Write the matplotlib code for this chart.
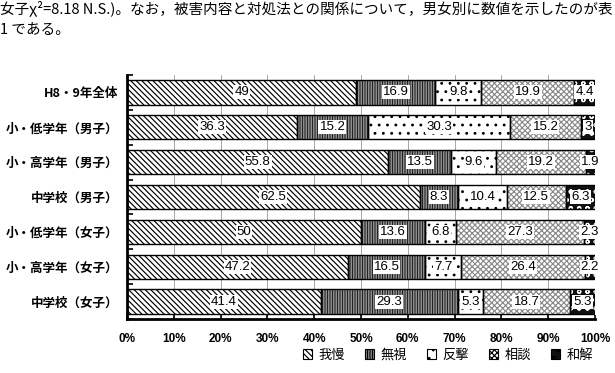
import matplotlib.pyplot as plt
import numpy as np
from matplotlib.patches import Patch

plt.rcParams['font.family'] = ['Noto Sans CJK JP', 'DejaVu Sans']
plt.rcParams['hatch.linewidth'] = 0.85

# 対処法別の割合（%）
groups = ['H8・9年全体', '小・低学年（男子）', '小・高学年（男子）', '中学校（男子）',
          '小・低学年（女子）', '小・高学年（女子）', '中学校（女子）']
categories = ['我慢', '無視', '反撃', '相談', '和解']
gaman = [49, 36.3, 55.8, 62.5, 50, 47.2, 41.4]
mushi = [16.9, 15.2, 13.5, 8.3, 13.6, 16.5, 29.3]
hangeki = [9.8, 30.3, 9.6, 10.4, 6.8, 7.7, 5.3]
soudan = [19.9, 15.2, 19.2, 12.5, 27.3, 26.4, 18.7]
wakai = [4.4, 3, 1.9, 6.3, 2.3, 2.2, 5.3]
tick_labels = ['0%', '10%', '20%', '30%', '40%', '50%', '60%', '70%', '80%', '90%', '100%']

series = [gaman, mushi, hangeki, soudan, wakai]
hatches = ['\\' * 6, '|' * 10, '..', 'x' * 6, 'oo']
faces = ['white', 'white', 'white', 'white', '#111111']
hcols = ['black', '#222222', 'black', '#8a8a8a', 'white']

fig = plt.figure(figsize=(6.15, 3.73), dpi=100)
ax = fig.add_axes([127/615, 1 - 319/373, 468/615, 244/373])

y = np.arange(len(groups))
left = np.zeros(len(groups))
for vals, h, fc, hc in zip(series, hatches, faces, hcols):
    vals = np.array(vals)
    ax.barh(y, vals, left=left, height=0.7, color=fc, hatch=h, edgecolor=hc, lw=0, zorder=2)
    ax.barh(y, vals, left=left, height=0.7, fill=False, edgecolor='black', lw=1.0, zorder=3)
    for yi, l, v in zip(y, left, vals):
        ax.text(l + v / 2, yi, f'{v:g}', ha='center', va='center', fontsize=9.5,
                family='Liberation Sans', zorder=4,
                bbox=dict(boxstyle='square,pad=0.08', fc='white', ec='none'))
    left += vals

ax.set_xlim(0, 100)
ax.set_ylim(6.42, -0.42)
ax.set_xticks(np.arange(0, 101, 10))
ax.set_xticklabels(tick_labels, fontsize=8.5, fontweight='bold', family='Liberation Sans')
ax.set_yticks(y)
ax.set_yticklabels(groups, fontsize=9, fontweight='bold')
ax.tick_params(axis='y', length=0, pad=6)
ax.set_yticks(np.arange(-0.5, 6.6, 1), minor=True)
ax.tick_params(axis='y', which='minor', direction='in', length=4, width=1.2)
ax.tick_params(axis='x', direction='in', length=3, width=1.2, pad=10)
ax.xaxis.grid(True, color='#999999', lw=0.6)
ax.set_axisbelow(True)
for s in ['top', 'right']:
    ax.spines[s].set_visible(False)
ax.spines['left'].set_linewidth(2)
ax.spines['bottom'].set_linewidth(2)

handles = [Patch(facecolor=fc, hatch=h, edgecolor='black', lw=0.8)
           for h, fc in zip(hatches, faces)]
fig.legend(handles, categories, ncol=5, loc='center', bbox_to_anchor=(448/615, 1 - 355/373),
           frameon=False, fontsize=9.5, handlelength=0.7, handleheight=0.7,
           columnspacing=1.5, handletextpad=0.5)

fig.text(0.0, 1 - 8/373, '女子χ²=8.18 N.S.)。なお，被害内容と対処法との関係について，男女別に数値を示したのが表',
         fontsize=10.5, va='center', ha='left')
fig.text(0.0, 1 - 30/373, '1 である。', fontsize=10.5, va='center', ha='left')

fig.savefig('out.png', dpi=100)
